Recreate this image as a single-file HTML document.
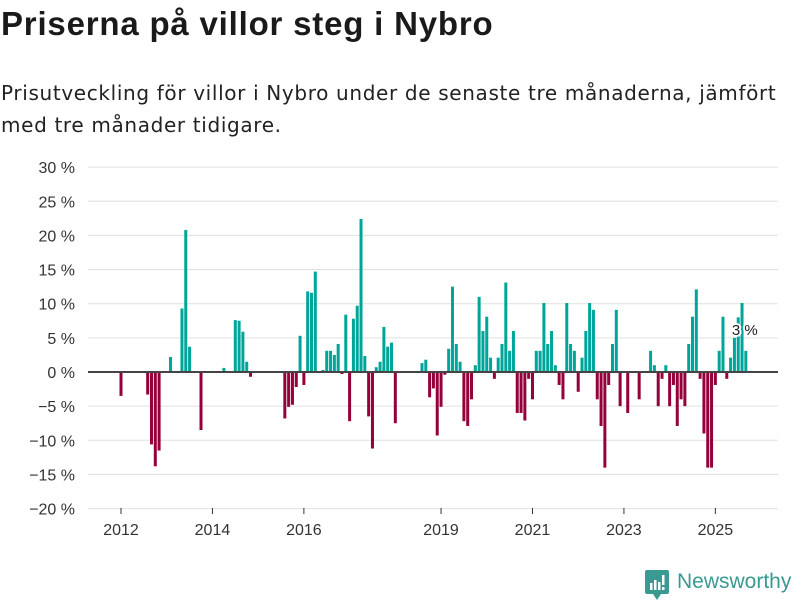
<!DOCTYPE html>
<html><head><meta charset="utf-8"><style>
body{margin:0;background:#fff;font-family:"Liberation Sans",sans-serif;}
#wrap{position:relative;width:800px;height:600px;overflow:hidden;}
h1{position:absolute;left:1px;top:5px;margin:0;font-size:33px;letter-spacing:0.8px;font-weight:bold;color:#1a1a1a;white-space:nowrap;}
p.sub{position:absolute;left:1px;top:77px;margin:0;font-family:"DejaVu Sans",sans-serif;font-size:20px;letter-spacing:0.65px;line-height:32px;color:#222;white-space:nowrap;}
</style></head><body>
<div id="wrap">
<h1>Priserna på villor steg i Nybro</h1>
<p class="sub">Prisutveckling för villor i Nybro under de senaste tre månaderna, jämfört<br>med tre månader tidigare.</p>
<svg id="chart" width="800" height="600" style="position:absolute;left:0;top:0"></svg>
<div style="position:absolute;left:645px;top:570px;">
<svg width="24" height="30" viewBox="0 0 24 30"><path d="M0 2 Q0 0 2 0 H22 Q24 0 24 2 V22 Q24 24 22 24 H16 L12 30 L8 24 H2 Q0 24 0 22Z" fill="#3a9a92"/><rect x="5" y="13" width="2.5" height="7" fill="#fff"/><rect x="9" y="10" width="2.5" height="10" fill="#fff"/><rect x="13" y="12" width="2.5" height="8" fill="#fff"/><rect x="17" y="5" width="2.5" height="10" fill="#fff"/><rect x="17" y="17" width="2.5" height="3" fill="#fff"/></svg>
<span style="position:absolute;left:32px;top:0px;font-size:21px;color:#3a9a92;white-space:nowrap;">Newsworthy</span>
</div>
</div>
<script>
const values = [
-3.5,0,0,0,0,0,0,-3.3,-10.6,-13.8,-11.5,0,
0,2.2,0,0,9.3,20.8,3.7,0,0,-8.5,0,0,
0,0,0,0.6,0,0,7.6,7.5,5.9,1.5,-0.7,0,
0,0,0,0,0,0,0,-6.8,-5.1,-4.8,-2.2,5.3,
-1.9,11.8,11.6,14.7,0,0.3,3.1,3.1,2.5,4.1,-0.3,8.4,
-7.2,7.8,9.7,22.4,2.35,-6.5,-11.2,0.7,1.5,6.6,3.7,4.3,
-7.5,0,0,0,0,0,0,1.3,1.8,-3.7,-2.4,-9.3,
-5.1,-0.4,3.4,12.5,4.1,1.5,-7.2,-7.9,-4.0,1.0,11.0,6.0,
8.1,2.1,-1.0,2.1,4.1,13.1,3.1,6.0,-6.0,-6.0,-7.1,-1.0,
-4.0,3.1,3.1,10.1,4.1,6.0,1.0,-1.9,-4.0,10.1,4.1,3.1,
-2.9,2.1,6.0,10.1,9.1,-4.0,-7.9,-14.0,-1.9,4.1,9.1,-5.0,
0,-6.0,0,0,-4.0,0,0,3.1,1.0,-5.0,-1.0,1.0,
-5.0,-1.9,-7.9,-4.0,-5.0,4.1,8.1,12.1,-1.0,-9.0,-14.0,-14.0,
-1.9,3.1,8.1,-1.0,2.1,5.0,8.0,10.1,3.1
];
const startYear = 2012;
const yTicks = [30,25,20,15,10,5,0,-5,-10,-15,-20];
const xTickYears = [2012,2014,2016,2019,2021,2023,2025];
const lastLabel = "3 %";

const NS="http://www.w3.org/2000/svg";
const svg=document.getElementById('chart');
const y0px=372, pxPerPct=6.83;
const yScale=v=>y0px-v*pxPerPct;
const x0=121, pxPerMonth=3.81;
const xScale=m=>x0+m*pxPerMonth;
function mk(tag,attrs){const e=document.createElementNS(NS,tag);for(const k in attrs)e.setAttribute(k,attrs[k]);svg.appendChild(e);return e;}
yTicks.forEach(t=>{
  const g=mk('line',{x1:88,x2:778,y1:yScale(t),y2:yScale(t),stroke:'#e0e0e0','stroke-width':1});
  
  
  const tx=mk('text',{x:75,y:yScale(t)+6,'text-anchor':'end','font-size':16,fill:'#333','font-family':'Liberation Sans, sans-serif'});
  tx.textContent=(t<0?'−'+(-t):t)+' %';
  
  
});
xTickYears.forEach(yr=>{
  const x=xScale((yr-startYear)*12);
  const l=mk('line',{x1:x,x2:x,y1:508,y2:514,stroke:'#333','stroke-width':1});
  
  
  const tx=mk('text',{x:x,y:535,'text-anchor':'middle','font-size':16,fill:'#333','font-family':'Liberation Sans, sans-serif'});
  tx.textContent=yr;
  
  
});
values.forEach((v,i)=>{
  if(v===0)return;
  const x=xScale(i)-1.5, y=yScale(Math.max(v,0)), h=Math.abs(v)*pxPerPct;
  const r=mk('rect',{x:x,y:y,width:3,height:h,fill:v>0?'#00a59a':'#95003b'});
  
  
});
const zl=mk('line',{x1:88,x2:778,y1:y0px,y2:y0px,stroke:'#444','stroke-width':2});


const li=values.length-1;
const lab=mk('text',{x:xScale(li)-1,y:335,'text-anchor':'middle','font-size':15,fill:'#222',stroke:'#fff','stroke-width':4,'paint-order':'stroke','font-family':'Liberation Sans, sans-serif'});
lab.textContent=lastLabel;


</script>
</body></html>
